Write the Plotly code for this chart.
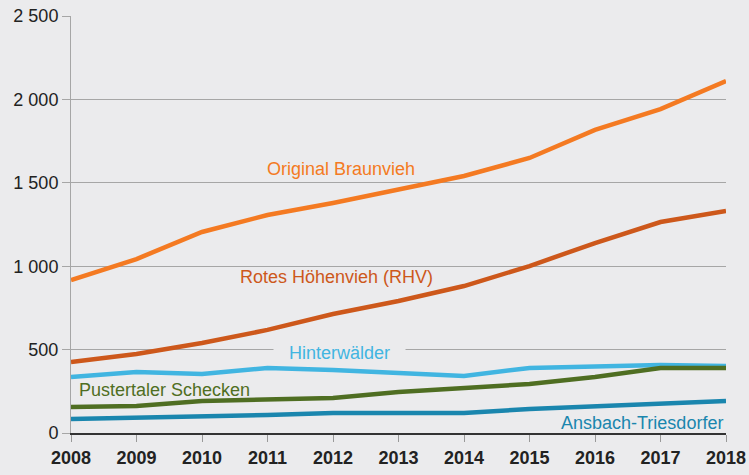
import plotly.graph_objects as go

years = [2008, 2009, 2010, 2011, 2012, 2013, 2014, 2015, 2016, 2017, 2018]
original_braunvieh = [917, 1043, 1205, 1307, 1379, 1463, 1541, 1649, 1817, 1942, 2110]
rotes_hoehenvieh = [426, 474, 540, 618, 713, 791, 881, 1001, 1139, 1265, 1331]
hinterwaelder = [336, 366, 354, 390, 378, 360, 342, 390, 402, 408, 402]
pustertaler = [156, 162, 192, 198, 210, 246, 270, 294, 336, 390, 390]
ansbach = [84, 90, 96, 108, 120, 120, 120, 144, 162, 174, 192]
y_ticks = [0, 500, 1000, 1500, 2000, 2500]

BG = "#ebebed"
series = [
    ("Original Braunvieh", original_braunvieh, "#f47a22"),
    ("Rotes Höhenvieh (RHV)", rotes_hoehenvieh, "#cd581b"),
    ("Hinterwälder", hinterwaelder, "#41b5e1"),
    ("Pustertaler Schecken", pustertaler, "#4f6e22"),
    ("Ansbach-Triesdorfer", ansbach, "#1a86ae"),
]

fig = go.Figure()
for name, vals, col in series:
    fig.add_trace(go.Scatter(x=years, y=vals, mode="lines", name=name,
                             line=dict(color=col, width=4.5), showlegend=False))

FONT = "Liberation Sans, Arial, Helvetica, sans-serif"
ann = [
    ("Original Braunvieh", 2012.12, 1580, "#f47a22", "center"),
    ("Rotes Höhenvieh (RHV)", 2012.05, 935, "#cd581b", "center"),
    ("Hinterwälder", 2012.1, 482, "#41b5e1", "center"),
    ("Pustertaler Schecken", 2008.1, 257, "#4f6e22", "left"),
    ("Ansbach-Triesdorfer", 2017.97, 58, "#1a86ae", "right"),
]
for text, x, y, col, align in ann:
    is_h = text == "Hinterwälder"
    fig.add_annotation(x=x, y=y, xref="x", yref="y",
                       text=("&nbsp;&nbsp;&nbsp;" + text + "&nbsp;&nbsp;&nbsp;") if is_h else text,
                       showarrow=False, xanchor=align, yanchor="middle",
                       font=dict(family=FONT, size=18, color=col),
                       bgcolor=BG if is_h else None, borderpad=0)

fig.update_layout(
    width=749, height=475,
    margin=dict(l=71, r=23, t=16, b=42),
    paper_bgcolor=BG, plot_bgcolor=BG,
    separators=", ",
    font=dict(family=FONT, size=18, color="#222222"),
    xaxis=dict(range=[2008, 2018], tickvals=years, ticktext=[str(y) for y in years],
               automargin=False,
               showgrid=False, zeroline=False, showline=True, linecolor="#333333", linewidth=2,
               ticks="outside", ticklen=7, tickcolor="#999999", tickwidth=1,
               tickfont=dict(family=FONT, size=18, color="#222222", weight="bold")),
    yaxis=dict(range=[0, 2500], tickvals=y_ticks, tickformat=",d", automargin=False,
               showgrid=True, gridcolor="#a6a6a6", gridwidth=1, zeroline=False,
               showline=True, linecolor="#a6a6a6", linewidth=1,
               ticks="outside", ticklen=8, tickcolor="#a6a6a6",
               tickfont=dict(family=FONT, size=18, color="#222222")),
)

post = ("document.body.style.margin='0';document.body.style.padding='0';"
        "document.body.style.overflow='hidden';"
        "document.body.style.background='" + BG + "';")
fig.write_html("out.html", post_script=post, config={"displayModeBar": False})
